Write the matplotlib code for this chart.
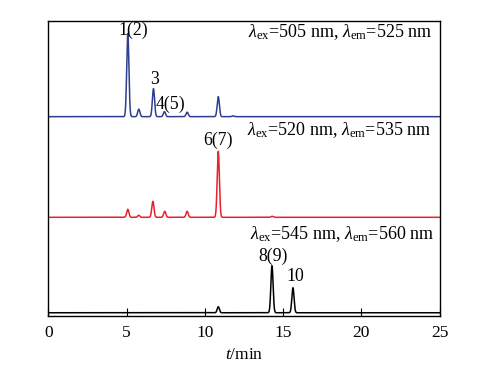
import matplotlib
matplotlib.use("Agg")
import matplotlib.pyplot as plt
import numpy as np

plt.rcParams['font.family'] = ['Liberation Serif', 'DejaVu Serif']
plt.rcParams['mathtext.fontset'] = 'custom'
plt.rcParams['mathtext.rm'] = 'Liberation Serif'
plt.rcParams['mathtext.it'] = 'Liberation Serif:italic'

# peak retention times (min) and heights for each channel
blue_t = [5.08, 5.78, 6.72, 7.42, 8.87, 10.86, 11.8]
blue_h = [83, 7.5, 28, 5, 4.5, 20, 0.8]
red_t = [5.08, 5.78, 6.68, 7.44, 8.87, 10.86, 14.3]
red_h = [8, 2, 16, 6, 6, 66, 1]
black_t = [10.86, 14.29, 15.63]
black_h = [6, 47, 25]

labels_blue = ["1(2)", "3", "4(5)"]
labels_red = ["6(7)"]
labels_black = ["8(9)", "10"]

ex_em = [(505, 525), (520, 535), (545, 560)]


def trace(t, centers, heights, sigma=0.07):
    y = np.zeros_like(t)
    for c, h in zip(centers, heights):
        y += h * np.exp(-0.5 * ((t - c) / sigma) ** 2)
    return y


t = np.linspace(0, 25, 5000)

fig = plt.figure(figsize=(5.03, 3.75), dpi=100)
ax = fig.add_axes([0.096, 0.158, 0.778, 0.787])

base_blue, base_red, base_black = 199, 98.4, 3
ax.plot(t, base_blue + trace(t, blue_t, blue_h), color='#2e3f8f', lw=1.1)
ax.plot(t, base_red + trace(t, red_t, red_h), color='#e8202a', lw=1.1)
ax.plot(t, base_black + trace(t, black_t, black_h), color='black', lw=1.1)

fs = 12.8
ax.text(5.40, 285.7, labels_blue[0], ha='center', va='center', fontsize=fs)
ax.text(6.76, 235.7, labels_blue[1], ha='center', va='center', fontsize=fs)
ax.text(7.78, 211.7, labels_blue[2], ha='center', va='center', fontsize=fs)
ax.text(10.83, 175, labels_red[0], ha='center', va='center', fontsize=fs)
ax.text(14.35, 59.7, labels_black[0], ha='center', va='center', fontsize=fs)
ax.text(15.77, 39.7, labels_black[1], ha='center', va='center', fontsize=fs)

for (ex, em), (x, y) in zip(ex_em, [(24.5, 284), (24.45, 185.7), (24.66, 81.7)]):
    ax.text(x, y, r'$\lambda_{\rm ex}$=%d nm, $\lambda_{\rm em}$=%d nm' % (ex, em),
            ha='right', va='center', fontsize=13)

ax.set_xlim(0, 25)
ax.set_ylim(0, 295)
ax.set_xticks([0, 5, 10, 15, 20, 25])
ax.set_yticks([])
ax.tick_params(axis='x', direction='in', length=6, labelsize=12.5, pad=7)
ax.set_xlabel(r'$t$/min', fontsize=12.5, labelpad=4)
for s in ax.spines.values():
    s.set_linewidth(1.0)

fig.savefig('out.png', dpi=100)
